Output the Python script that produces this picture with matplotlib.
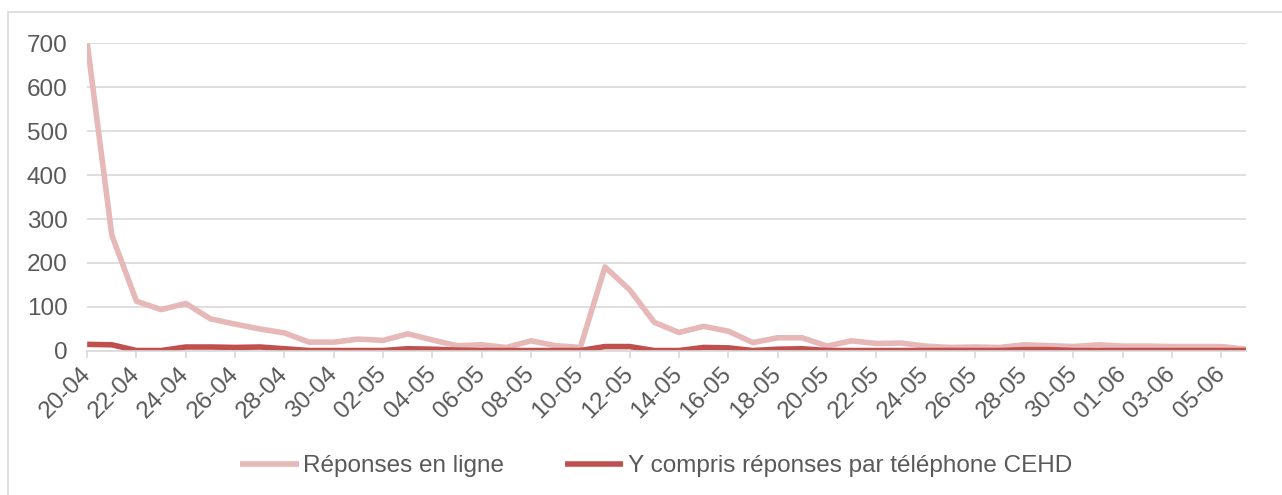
import numpy as np
import pandas as pd
import matplotlib
matplotlib.use("Agg")
import matplotlib.pyplot as plt
from matplotlib.patches import Rectangle

plt.rcParams['font.family'] = ['Liberation Sans', 'DejaVu Sans']

# one point per day, 20-04 to 06-06
days = pd.date_range("2020-04-20", "2020-06-06", freq="D").strftime("%d-%m").tolist()

en_ligne = [700, 263, 113, 94, 108, 73, 61, 50, 41, 20, 20, 27, 24, 39, 25, 12,
            14, 8, 23, 12, 8, 191, 139, 65, 42, 56, 45, 19, 30, 30, 11, 23,
            17, 18, 11, 8, 9, 8, 14, 12, 10, 14, 11, 11, 10, 10, 10, 4]
telephone = [15, 14, 1, 1, 9, 9, 8, 9, 5, 1, 1, 1, 1, 5, 4, 2,
             1, 1, 1, 1, 1, 10, 10, 1, 1, 8, 7, 1, 4, 5, 1, 1,
             1, 1, 1, 1, 1, 1, 3, 3, 1, 1, 1, 1, 1, 1, 1, 1]

grey_txt = "#595959"
fs = 17.5
fig = plt.figure(figsize=(12.82, 4.95), dpi=100)
ax = fig.add_axes([0.068, 0.291, 0.904, 0.622])

x = np.arange(len(days))
ax.plot(x, en_ligne, color="#E6B8B7", lw=4, label="Réponses en ligne", solid_capstyle="butt")
ax.plot(x, telephone, color="#C0504D", lw=4, label="Y compris réponses par téléphone CEHD",
        solid_capstyle="butt")

ax.set_xlim(0, len(days) - 1)
ax.set_ylim(0, 700)
ax.set_yticks(range(0, 701, 100))
ax.set_xticks(x[::2])
ax.set_xticklabels(days[::2], rotation=45, ha="right", va="center", rotation_mode="anchor")

ax.grid(axis="y", color="#D9D9D9", lw=1.2)
ax.set_axisbelow(True)
for s in ["top", "right", "left"]:
    ax.spines[s].set_visible(False)
ax.spines["bottom"].set_color("#D9D9D9")
ax.spines["bottom"].set_linewidth(1.2)
ax.tick_params(axis="x", colors="#D9D9D9", length=5, width=1.2, labelcolor=grey_txt,
               labelsize=fs, pad=9)
ax.tick_params(axis="y", length=0, labelcolor=grey_txt, labelsize=fs, pad=14)

fig.legend(loc="center", bbox_to_anchor=(0.512, 0.058), ncol=2, frameon=False,
           fontsize=fs, labelcolor=grey_txt, handlelength=2.4, handletextpad=0.2,
           columnspacing=2.5)

# light frame round the chart
fig.patches.append(Rectangle((8 / 1282, -0.1), 1.1, 1.1 - 12 / 495,
                             transform=fig.transFigure, fill=False,
                             edgecolor="#D9D9D9", lw=1.2))

fig.savefig("out.png", dpi=100)
